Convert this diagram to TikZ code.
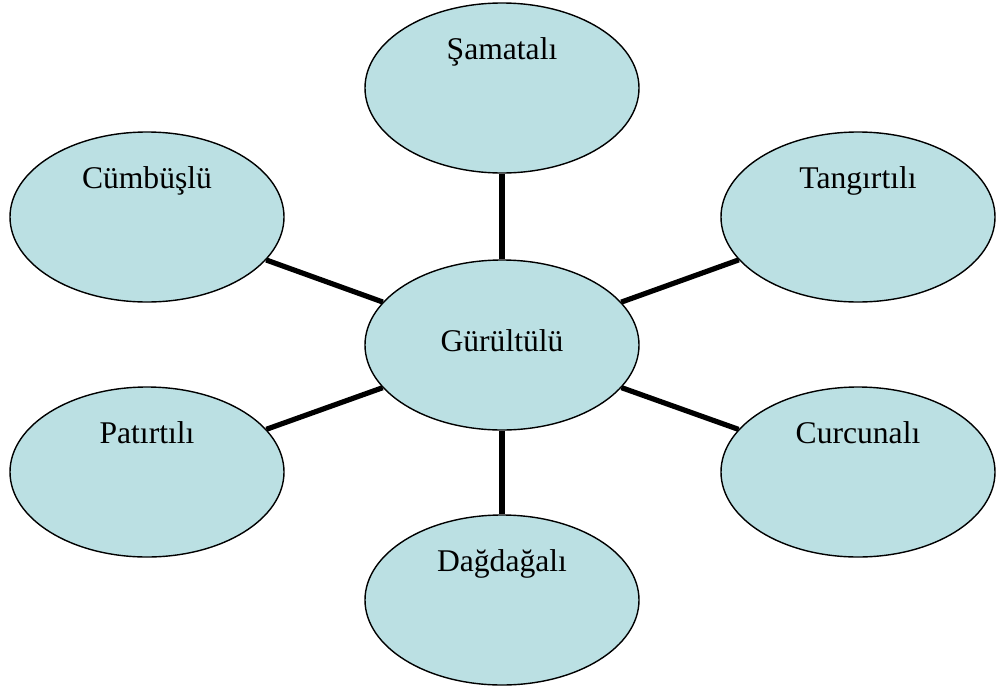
\documentclass[tikz,border=0pt]{standalone}
\usepackage{fontspec}
\setmainfont{Liberation Serif}
\usetikzlibrary{shapes.geometric}
\definecolor{bubble}{RGB}{187,224,227}
\tikzset{
  bubble/.style={ellipse, draw=black, line width=0.7pt, fill=bubble,
    minimum width=137pt, minimum height=85pt, inner sep=0pt},
  lbl/.style={anchor=base, inner sep=0pt, font=\fontsize{15.8}{19}\selectfont},
  spoke/.style={line width=2.6pt, black}
}
\begin{document}
\begin{tikzpicture}[x=1pt,y=1pt]
\useasboundingbox (0,0) rectangle (498,-345.5);
\node[bubble] (g)  at (251,-172.5) {};
\node[bubble] (s)  at (251,-44) {};
\node[bubble] (cu) at (73.5,-108.5) {};
\node[bubble] (t)  at (429,-108.5) {};
\node[bubble] (p)  at (73.5,-236) {};
\node[bubble] (cr) at (429,-236) {};
\node[bubble] (d)  at (251,-300) {};
\draw[spoke] (g) -- (s);
\draw[spoke] (g) -- (cu);
\draw[spoke] (g) -- (t);
\draw[spoke] (g) -- (p);
\draw[spoke] (g) -- (cr);
\draw[spoke] (g) -- (d);
\node[lbl] (gl)  at ([yshift=-3.3pt]g.center) {Gürültülü};
\node[lbl] (sl)  at ([yshift=14.5pt]s.center) {Şamatalı};
\node[lbl] (cul) at ([yshift=14.5pt]cu.center) {Cümbüşlü};
\node[lbl] (tl)  at ([yshift=14.5pt]t.center) {Tangırtılı};
\node[lbl] (pl)  at ([yshift=14.5pt]p.center) {Patırtılı};
\node[lbl] (crl) at ([yshift=14.5pt]cr.center) {Curcunalı};
\node[lbl] (dl)  at ([yshift=14.5pt]d.center) {Dağdağalı};
\end{tikzpicture}
\end{document}
